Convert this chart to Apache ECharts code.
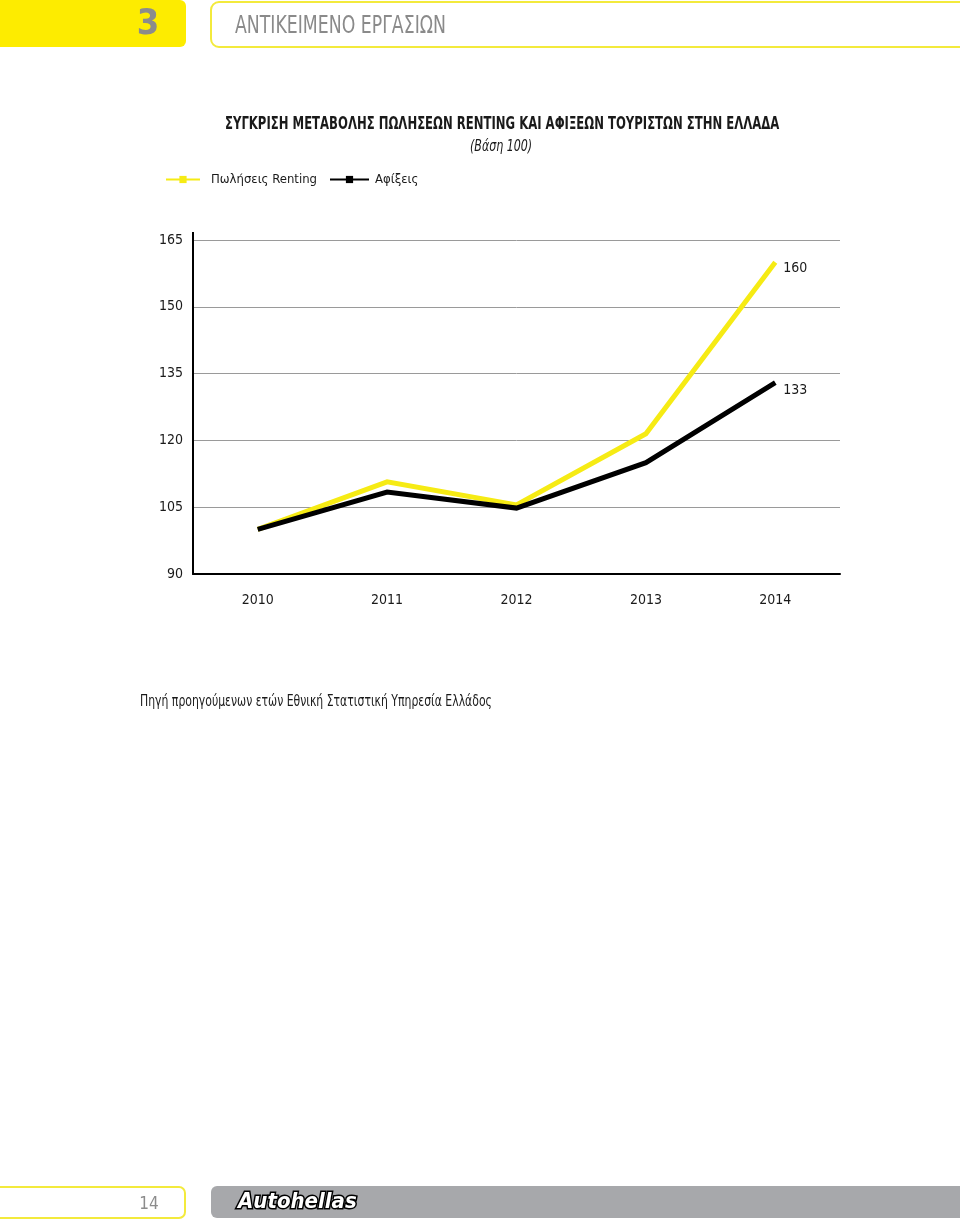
<!DOCTYPE html>
<html lang="el">
<head>
  <meta charset="utf-8">
  <title>Renting vs αφίξεις</title>
  <style>
    html, body { margin: 0; padding: 0; background: #fff; }
    .box { width: 960px; height: 1219px; }
  </style>
</head>
<body>
  <div class="box"></div>
  <script src="https://cdn.jsdelivr.net/npm/echarts@6/dist/echarts.min.js"></script>
  <script>
    // δεδομένα (βάση 100)
    var years = ['2010', '2011', '2012', '2013', '2014'];
    var renting = [100, 110.7, 105.5, 121.5, 160];
    var arrivals = [100, 108.4, 104.8, 115, 133];
    var yTicks = [90, 105, 120, 135, 150, 165];

    var FONT = '"DejaVu Sans Condensed", "DejaVu Sans", sans-serif';
    var YELLOW = '#f6eb14';
    var INK = '#1a1a1a';

    var box = document.querySelector('.box');
    var myChart = echarts.init(box);

    // στενό κείμενο (η γραμματοσειρά του πρωτοτύπου είναι condensed)
    function narrowText(x, y, text, font, sx, fill, align) {
      return {
        type: 'text', x: x, y: y, scaleX: sx,
        style: { text: text, font: font, fill: fill || INK, textAlign: align || 'left', textVerticalAlign: 'middle' }
      };
    }

    var option = {
      animation: false,
      textStyle: { fontFamily: FONT, color: INK },
      legend: [
        {
          left: 165, top: 173, padding: 0,
          itemWidth: 34, itemHeight: 9,
          lineStyle: { width: 2 },
          textStyle: { fontFamily: FONT, fontSize: 13, color: INK, padding: [0, 0, 0, 6] },
          data: ['Πωλήσεις Renting']
        },
        {
          left: 329, top: 173, padding: 0,
          itemWidth: 39, itemHeight: 9,
          lineStyle: { width: 2 },
          textStyle: { fontFamily: FONT, fontSize: 13, color: INK, padding: [0, 0, 0, 1] },
          data: ['Αφίξεις']
        }
      ],
      grid: { left: 193, right: 120, top: 240, bottom: 645, containLabel: false },
      xAxis: {
        type: 'category',
        data: years,
        axisLine: { lineStyle: { color: '#000', width: 2 } },
        axisTick: { show: false },
        axisLabel: { margin: 19, fontSize: 14, color: INK, fontFamily: FONT }
      },
      yAxis: {
        type: 'value',
        min: 90, max: 165, interval: 15,
        axisLine: { show: true, lineStyle: { color: '#000', width: 2 } },
        axisTick: { show: false },
        axisLabel: {
          margin: 10, fontSize: 14, color: INK, fontFamily: FONT,
          formatter: function (v) { return yTicks.indexOf(v) >= 0 ? v : ''; }
        },
        splitLine: { lineStyle: { color: '#9a9a9a', width: 1 } }
      },
      series: [
        {
          name: 'Πωλήσεις Renting',
          type: 'line',
          data: renting,
          symbol: 'rect', symbolSize: 9, showSymbol: false,
          itemStyle: { color: YELLOW },
          lineStyle: { color: YELLOW, width: 5, join: 'miter' },
          endLabel: {
            show: true, distance: 8, offset: [0, 6],
            formatter: function (p) { return Math.round(p.value); },
            fontSize: 14, color: INK, fontFamily: FONT
          }
        },
        {
          name: 'Αφίξεις',
          type: 'line',
          data: arrivals,
          symbol: 'rect', symbolSize: 9, showSymbol: false,
          itemStyle: { color: '#000' },
          lineStyle: { color: '#000', width: 5, join: 'miter' },
          endLabel: {
            show: true, distance: 8, offset: [0, 8],
            formatter: function (p) { return Math.round(p.value); },
            fontSize: 14, color: INK, fontFamily: FONT
          }
        }
      ],
      graphic: [
        // κεφαλίδα
        { type: 'rect', shape: { x: -10, y: 0, width: 196, height: 47, r: 6 }, style: { fill: '#fdec00' } },
        { type: 'text', x: 148, y: 25, style: { text: '3', fill: '#8c8c8c', font: 'bold 36px ' + FONT, textAlign: 'center', textVerticalAlign: 'middle' } },
        { type: 'rect', shape: { x: 211, y: 2, width: 760, height: 45, r: 8 }, style: { fill: '#fff', stroke: '#f3ea3c', lineWidth: 2 } },
        narrowText(235, 26, 'ΑΝΤΙΚΕΙΜΕΝΟ ΕΡΓΑΣΙΩΝ', '25px ' + FONT, 0.77, '#8a8a8a'),
        // τίτλος
        narrowText(225, 124, 'ΣΥΓΚΡΙΣΗ ΜΕΤΑΒΟΛΗΣ ΠΩΛΗΣΕΩΝ RENTING ΚΑΙ ΑΦΙΞΕΩΝ ΤΟΥΡΙΣΤΩΝ ΣΤΗΝ ΕΛΛΑΔΑ', 'bold 18px ' + FONT, 0.72),
        narrowText(470, 147, '(Βάση 100)', 'italic 15px ' + FONT, 0.82),
        // προέκταση άξονα y
        { type: 'line', shape: { x1: 193, y1: 232, x2: 193, y2: 241 }, style: { stroke: '#000', lineWidth: 2 } },
        // πηγή
        narrowText(140, 702, 'Πηγή προηγούμενων ετών Εθνική Στατιστική Υπηρεσία Ελλάδος', '16px ' + FONT, 0.755),
        // υποσέλιδο
        { type: 'rect', shape: { x: -10, y: 1187, width: 195, height: 31, r: 6 }, style: { fill: '#fff', stroke: '#f3ea3c', lineWidth: 2 } },
        { type: 'text', x: 149, y: 1205, style: { text: '14', fill: '#8c8c8c', font: '17px ' + FONT, textAlign: 'center', textVerticalAlign: 'middle' } },
        { type: 'rect', shape: { x: 211, y: 1186, width: 760, height: 32, r: [6, 0, 0, 6] }, style: { fill: '#a7a8ab' } },
        { type: 'text', x: 238, y: 1202, style: { text: 'Autohellas', fill: '#fff', stroke: '#000', lineWidth: 3, font: 'italic 900 22px ' + FONT, textVerticalAlign: 'middle' } }
      ]
    };
    myChart.setOption(option);
  </script>
</body>
</html>
